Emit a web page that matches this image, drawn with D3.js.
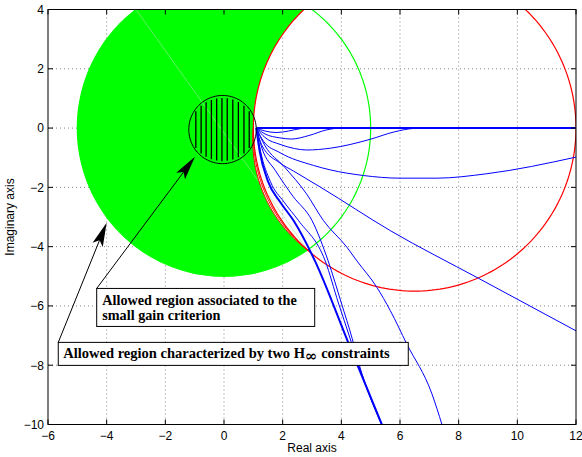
<!DOCTYPE html>
<html>
<head>
<meta charset="utf-8">
<script src="https://cdn.jsdelivr.net/npm/d3@7"></script>
<style>
body { margin: 0; background: #fff; }
svg { display: block; }
</style>
</head>
<body>
<script>
var width = 582;
var height = 457;
var pl = 48, pr = 576, pt = 9.5, pb = 424.5;

// axes
var xDomain = [-6, 12];
var yDomain = [-10, 4];
var xTicks = [-6, -4, -2, 0, 2, 4, 6, 8, 10, 12];
var yTicks = [-10, -8, -6, -4, -2, 0, 2, 4];

// circles as [cx, cy, r]
var hinfCircle = [0, 0, 5];
var redCircle = [6.5, 0, 5.5];
var redInnerRadii = [5.05, 4.6];
var smallGainCircle = [-0.05, -0.05, 1.15];
var hatchX = [-0.96, -0.78, -0.61, -0.43, -0.25, -0.07, 0.11, 0.30, 0.49, 0.68, 0.86];

// open loop curves (real, imag)
var curveA = [[1.1, 0], [12, 0]];
var curveB1 = [[1.1, 0], [1.4, -0.1], [1.8, -0.15], [2.2, -0.1], [2.6, -0.02], [3.0, 0], [12, 0]];
var curveB2 = [[1.1, 0], [1.4, -0.2], [1.9, -0.33], [2.3, -0.37], [2.9, -0.25], [3.5, -0.06], [4.0, 0], [12, 0]];
var curveC = [[1.1, 0], [1.4, -0.32], [1.91, -0.55], [2.4, -0.69], [2.82, -0.74], [3.62, -0.68], [4.98, -0.38], [5.8, -0.13], [6.5, -0.01], [7, 0], [12, 0]];
var curveD = [[1.1, 0], [1.35, -0.45], [1.91, -0.83], [3.05, -1.26], [3.62, -1.41], [4.75, -1.6], [6.0, -1.69], [7.26, -1.69], [8.96, -1.54], [12, -0.98]];
var curveE = [[1.1, 0], [1.3, -0.6], [1.91, -1.18], [2.37, -1.45], [3.3, -2.0], [5.67, -3.46], [8.68, -5.07], [12, -6.84]];
var curveF = [[1.1, 0], [1.22, -0.8], [1.5, -1.8], [1.92, -2.5], [2.37, -3.12], [3.1, -4.48], [4.23, -7.22], [5.38, -10]];
var curveG = [[1.1, 0], [1.25, -0.8], [1.58, -1.8], [2.05, -2.5], [2.54, -3.12], [3.45, -4.48], [3.9, -5.9], [4.3, -7.1], [4.57, -7.95], [5.38, -10]];
var curveH = [[1.1, 0], [1.3, -0.7], [1.75, -1.43], [2.35, -2.3], [3.0, -3.12], [3.55, -4.48], [4.0, -5.9], [4.37, -7.1], [4.6, -7.95], [5.38, -10]];
var curveI = [[1.1, 0], [1.4, -0.6], [2.05, -1.3], [2.8, -2.2], [3.39, -3.12], [4.19, -4.02], [4.53, -4.48], [5.21, -5.37], [5.67, -6.16], [6.23, -7.28], [7.09, -8.97], [7.43, -10]];

// annotations: arrow tail = box corner, head = arrow tip
var arrowTails = [[-4.34, -5.41], [-5.65, -7.23]];
var arrowHeads = [[-0.99, -0.97], [-4.0, -3.19]];
var boxLines = [["Allowed region associated to the", "small gain criterion"],
                ["Allowed region characterized by two H", "\u221E", " constraints"]];

var x = d3.scaleLinear().domain(xDomain).range([pl, pr]);
var y = d3.scaleLinear().domain(yDomain).range([pb, pt]);

var svg = d3.select("body")
    .append("svg")
    .attr("width", width)
    .attr("height", height);

svg.append("defs").append("clipPath").attr("id", "clip")
    .append("rect")
    .attr("x", pl).attr("y", pt)
    .attr("width", pr - pl).attr("height", pb - pt);

// grid
var grid = svg.append("g")
    .attr("stroke", "#666")
    .attr("stroke-width", 0.8)
    .attr("stroke-dasharray", "1,3");
grid.selectAll(".gx").data(xTicks.slice(1, -1)).enter().append("line")
    .attr("x1", d => x(d)).attr("x2", d => x(d))
    .attr("y1", pt).attr("y2", pb);
grid.selectAll(".gy").data(yTicks.slice(1, -1)).enter().append("line")
    .attr("y1", d => y(d)).attr("y2", d => y(d))
    .attr("x1", pl).attr("x2", pr);

var plot = svg.append("g").attr("clip-path", "url(#clip)");

function arcPts(c, a0, a1, n) {
    return d3.range(n + 1).map(function(i) {
        var a = a0 + (a1 - a0) * i / n;
        return [c[0] + c[2] * Math.cos(a), c[1] + c[2] * Math.sin(a)];
    });
}
var pathOf = d3.line().x(d => x(d[0])).y(d => y(d[1]));

// intersections of the two H-infinity circles
var dd = redCircle[0] - hinfCircle[0];
var xi = (dd * dd + hinfCircle[2] * hinfCircle[2] - redCircle[2] * redCircle[2]) / (2 * dd);
var yi = Math.sqrt(hinfCircle[2] * hinfCircle[2] - xi * xi);
var pTop = [hinfCircle[0] + xi, yi];
var pBot = [hinfCircle[0] + xi, -yi];
var pLeft = [redCircle[0] - redCircle[2], redCircle[1]];

// extra red arcs between pLeft and pBot
function arcThrough(p1, p2, r) {
    var mx = (p1[0] + p2[0]) / 2, my = (p1[1] + p2[1]) / 2;
    var vx = p2[0] - p1[0], vy = p2[1] - p1[1];
    var len = Math.sqrt(vx * vx + vy * vy);
    var nx = -vy / len, ny = vx / len;
    if ((redCircle[0] - mx) * nx + (redCircle[1] - my) * ny < 0) { nx = -nx; ny = -ny; }
    var dist = Math.sqrt(r * r - len * len / 4);
    var c = [mx + nx * dist, my + ny * dist, r];
    var a1 = Math.atan2(p1[1] - c[1], p1[0] - c[0]);
    var a2 = Math.atan2(p2[1] - c[1], p2[0] - c[0]);
    while (a2 - a1 > Math.PI) a2 -= 2 * Math.PI;
    while (a1 - a2 > Math.PI) a2 += 2 * Math.PI;
    return arcPts(c, a1, a2, 60);
}
var innerArcs = redInnerRadii.map(r => arcThrough(pLeft, pBot, r));

// green allowed region
var aTop = Math.atan2(pTop[1], pTop[0]);
var aRedTop = Math.atan2(pTop[1] - redCircle[1], pTop[0] - redCircle[0]);
var greenPts = arcPts(hinfCircle, aTop, 2 * Math.PI - aTop, 200)
    .concat(innerArcs[innerArcs.length - 1].slice().reverse())
    .concat(arcPts(redCircle, Math.PI, aRedTop, 60));
plot.append("path")
    .attr("d", pathOf(greenPts) + "Z")
    .attr("fill", "#00ff00")
    .attr("stroke", "none");

// patch seam
var seamTop = [-Math.sqrt(hinfCircle[2] * hinfCircle[2] - yDomain[1] * yDomain[1]), yDomain[1]];
plot.append("path")
    .attr("d", pathOf([seamTop, pBot]))
    .attr("stroke", "#9ee89e")
    .attr("stroke-width", 0.6)
    .attr("fill", "none");

// green circle
plot.append("path")
    .attr("d", pathOf(arcPts(hinfCircle, 0, 2 * Math.PI, 240)) + "Z")
    .attr("fill", "none")
    .attr("stroke", "#00ff00")
    .attr("stroke-width", 1.2);

// red circle and extra arcs
plot.append("path")
    .attr("d", pathOf(arcPts(redCircle, 0, 2 * Math.PI, 240)) + "Z")
    .attr("fill", "none")
    .attr("stroke", "#ff0000")
    .attr("stroke-width", 1.2);
innerArcs.forEach(function(a) {
    plot.append("path")
        .attr("d", pathOf(a))
        .attr("fill", "none")
        .attr("stroke", "#ff0000")
        .attr("stroke-width", 1);
});

// blue curves
var curves = [curveA, curveB1, curveB2, curveC, curveD, curveE, curveF, curveG, curveH, curveI];
var thick = [curveA, curveF];
var blueLine = d3.line().x(d => x(d[0])).y(d => y(d[1])).curve(d3.curveMonotoneX);
plot.selectAll(".nyq").data(curves).enter().append("path")
    .attr("d", d => blueLine(d))
    .attr("fill", "none")
    .attr("stroke", "#0000ff")
    .attr("stroke-width", d => thick.indexOf(d) >= 0 ? 2 : 1);

// small gain circle with hatching
var sg = plot.append("g");
sg.append("path")
    .attr("d", pathOf(arcPts(smallGainCircle, 0, 2 * Math.PI, 120)) + "Z")
    .attr("fill", "none")
    .attr("stroke", "#000")
    .attr("stroke-width", 1);
sg.selectAll(".hatch").data(hatchX).enter().append("line")
    .attr("x1", d => x(d)).attr("x2", d => x(d))
    .attr("y1", function(d) {
        var h = Math.sqrt(Math.max(0, smallGainCircle[2] * smallGainCircle[2] - Math.pow(d - smallGainCircle[0], 2)));
        return y(smallGainCircle[1] + h) + 2.5;
    })
    .attr("y2", function(d) {
        var h = Math.sqrt(Math.max(0, smallGainCircle[2] * smallGainCircle[2] - Math.pow(d - smallGainCircle[0], 2)));
        return y(smallGainCircle[1] - h) - 2.5;
    })
    .attr("stroke", "#000")
    .attr("stroke-width", 1.3);

// axes box and ticks
var ax = svg.append("g").attr("stroke", "#000").attr("stroke-width", 1);
ax.append("rect")
    .attr("x", pl).attr("y", pt)
    .attr("width", pr - pl).attr("height", pb - pt)
    .attr("fill", "none");
xTicks.forEach(function(t) {
    ax.append("line").attr("x1", x(t)).attr("x2", x(t)).attr("y1", pb).attr("y2", pb - 5);
    ax.append("line").attr("x1", x(t)).attr("x2", x(t)).attr("y1", pt).attr("y2", pt + 5);
});
yTicks.forEach(function(t) {
    ax.append("line").attr("y1", y(t)).attr("y2", y(t)).attr("x1", pl).attr("x2", pl + 5);
    ax.append("line").attr("y1", y(t)).attr("y2", y(t)).attr("x1", pr).attr("x2", pr - 5);
});

var fmt = d => d < 0 ? "\u2212" + Math.abs(d) : "" + d;
var lab = svg.append("g")
    .attr("font-family", "'Liberation Sans', Arial, sans-serif")
    .attr("font-size", 12)
    .attr("fill", "#000");
lab.selectAll(".xl").data(xTicks).enter().append("text")
    .attr("x", d => x(d)).attr("y", pb + 15.5)
    .attr("text-anchor", "middle")
    .text(fmt);
lab.selectAll(".yl").data(yTicks).enter().append("text")
    .attr("x", pl - 4).attr("y", d => y(d) + 4.3)
    .attr("text-anchor", "end")
    .text(fmt);
lab.append("text")
    .attr("x", (pl + pr) / 2).attr("y", 452)
    .attr("text-anchor", "middle")
    .text("Real axis");
lab.append("text")
    .attr("transform", "translate(14," + ((pt + pb) / 2) + ") rotate(-90)")
    .attr("text-anchor", "middle")
    .text("Imaginary axis");

// annotation arrows
function arrow(t, h) {
    var x0 = x(t[0]), y0 = y(t[1]), x1 = x(h[0]), y1 = y(h[1]);
    var dx = x1 - x0, dy = y1 - y0, L = Math.sqrt(dx * dx + dy * dy);
    var ux = dx / L, uy = dy / L, px = -uy, py = ux;
    var hl = 24, nl = 19, hw = 5.5;
    svg.append("line")
        .attr("x1", x0).attr("y1", y0)
        .attr("x2", x1 - ux * nl).attr("y2", y1 - uy * nl)
        .attr("stroke", "#000").attr("stroke-width", 1);
    var pts = [[x1, y1],
        [x1 - ux * hl + px * hw, y1 - uy * hl + py * hw],
        [x1 - ux * nl, y1 - uy * nl],
        [x1 - ux * hl - px * hw, y1 - uy * hl - py * hw]];
    svg.append("path").attr("d", "M" + pts.join("L") + "Z").attr("fill", "#000");
}
arrow(arrowTails[0], arrowHeads[0]);
arrow(arrowTails[1], arrowHeads[1]);

// text boxes
var boxFont = "'Liberation Serif', 'Times New Roman', serif";
var b1x = x(arrowTails[0][0]), b1y = y(arrowTails[0][1]);
svg.append("rect")
    .attr("x", b1x).attr("y", b1y).attr("width", 218).attr("height", 38)
    .attr("fill", "#fff").attr("stroke", "#000").attr("stroke-width", 1);
var t1 = svg.append("text")
    .attr("font-family", boxFont).attr("font-weight", "bold").attr("font-size", 14.2)
    .attr("x", b1x + 5.6).attr("y", b1y + 17);
t1.append("tspan").attr("x", b1x + 5.6).text(boxLines[0][0]);
t1.append("tspan").attr("x", b1x + 5.6).attr("dy", 14.6).text(boxLines[0][1]);

var b2x = x(arrowTails[1][0]), b2y = y(arrowTails[1][1]);
svg.append("rect")
    .attr("x", b2x).attr("y", b2y).attr("width", 350).attr("height", 23)
    .attr("fill", "#fff").attr("stroke", "#000").attr("stroke-width", 1);
var t2 = svg.append("text")
    .attr("font-family", boxFont).attr("font-weight", "bold").attr("font-size", 14.5)
    .attr("x", b2x + 5).attr("y", b2y + 15.5);
t2.append("tspan").text(boxLines[1][0]);
t2.append("tspan").attr("dy", 3).attr("font-size", 15).attr("font-family", "'DejaVu Serif', serif").text(boxLines[1][1]);
t2.append("tspan").attr("dy", -3).text(boxLines[1][2]);
</script>
</body>
</html>
